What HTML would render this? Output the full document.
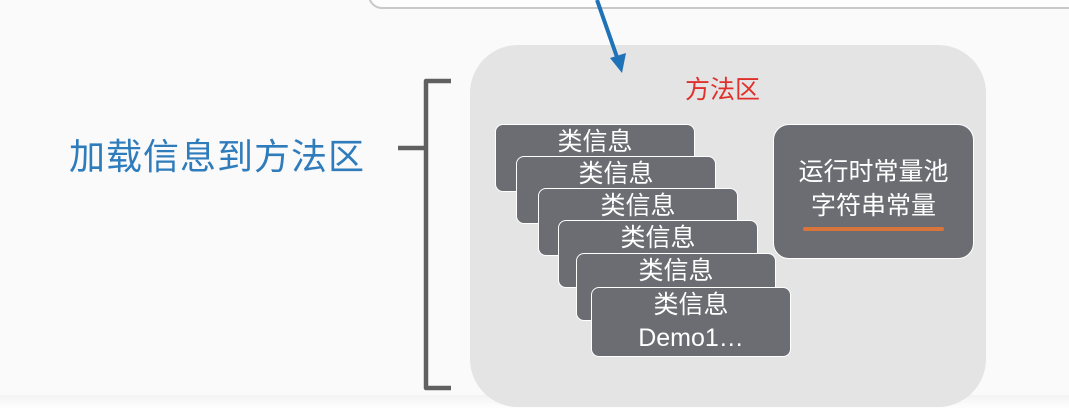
<!DOCTYPE html>
<html><head><meta charset="utf-8"><style>
body{margin:0;width:1069px;height:410px;overflow:hidden;background:#fafafa;font-family:"Liberation Sans","Noto Sans CJK SC",sans-serif;position:relative}
.a{position:absolute}
.cls{position:absolute;width:200px;height:68px;background:#6b6d72;border:1px solid #fff;border-radius:8px;color:#fff;font-size:25px;text-align:center;line-height:34px;box-sizing:border-box}
</style></head><body>
<div class="a" style="left:0;top:395px;width:1069px;height:15px;background:linear-gradient(#f3f3f3,#fff)"></div>
<div class="a" style="left:368px;top:-20px;width:720px;height:25px;border:2px solid #c8c8c8;border-radius:14px;background:#fdfdfd"></div>
<div class="a" style="left:470px;top:45px;width:516px;height:362px;background:#e4e4e4;border-radius:48px"></div>
<div class="a" style="left:685px;top:70px;color:#e0302c;font-size:25px">方法区</div>
<svg class="a" style="left:0;top:0" width="1069" height="410">
<line x1="597" y1="0" x2="618" y2="60" stroke="#1f72b8" stroke-width="4"/>
<polygon points="610,58 626,53 622,73" fill="#1f72b8"/>
<path d="M451,81 H426 V388 H451 M426,148 H398" fill="none" stroke="#606060" stroke-width="4.5" stroke-linejoin="round"/>
</svg>
<div class="a" style="left:69px;top:128px;color:#2e7cbc;font-size:36px;letter-spacing:1px">加载信息到方法区</div>
<div class="cls" style="left:495px;top:124px">类信息</div>
<div class="cls" style="left:516px;top:156px">类信息</div>
<div class="cls" style="left:538px;top:188px">类信息</div>
<div class="cls" style="left:558px;top:220px">类信息</div>
<div class="cls" style="left:576px;top:253px">类信息</div>
<div class="cls" style="left:591px;top:287px;height:70px;line-height:33px;padding-top:1px">类信息<br>Demo1…</div>
<div class="a" style="left:773px;top:124px;width:201px;height:135px;background:#6b6d72;border:1px solid #fff;border-radius:16px;box-sizing:border-box;color:#fff;font-size:25px;text-align:center;line-height:34px;padding-top:30px">运行时常量池<br>字符串常量</div>
<div class="a" style="left:803px;top:227px;width:141px;height:4px;background:#d9753a;border-radius:2px"></div>
</body></html>
